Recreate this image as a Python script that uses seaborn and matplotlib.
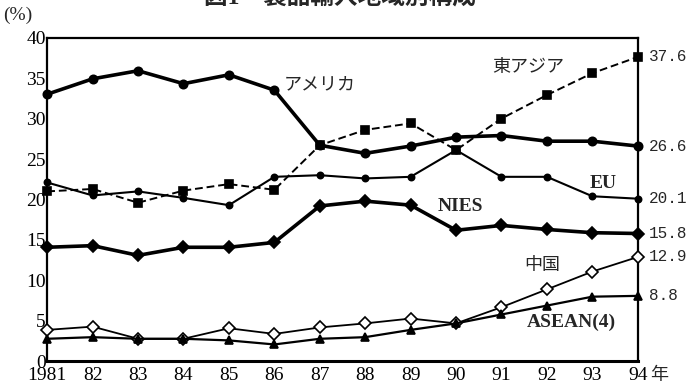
import numpy as np
import pandas as pd
import matplotlib
matplotlib.use("Agg")
import matplotlib.pyplot as plt
import seaborn as sns

# データ (図1 製品輸入地域別構成, %)
years = list(range(1981, 1995))
america = [33.0, 34.9, 35.9, 34.3, 35.4, 33.5, 26.7, 25.7, 26.6, 27.7, 27.9, 27.2, 27.2, 26.6]
east_asia = [21.0, 21.3, 19.6, 21.1, 21.9, 21.2, 26.7, 28.6, 29.4, 26.1, 30.0, 32.9, 35.6, 37.6]
eu = [22.1, 20.5, 21.0, 20.2, 19.3, 22.8, 23.0, 22.6, 22.8, 26.1, 22.8, 22.8, 20.4, 20.1]
nies = [14.1, 14.3, 13.1, 14.1, 14.1, 14.7, 19.2, 19.8, 19.3, 16.2, 16.8, 16.3, 15.9, 15.8]
china = [3.9, 4.3, 2.8, 2.8, 4.1, 3.4, 4.2, 4.7, 5.3, 4.7, 6.7, 8.9, 11.1, 12.9]
asean = [2.8, 3.0, 2.8, 2.8, 2.6, 2.1, 2.8, 3.0, 3.9, 4.7, 5.8, 6.9, 8.0, 8.1]

x_labels = ["1981", "82", "83", "84", "85", "86", "87", "88", "89", "90", "91", "92", "93", "94"]
end_labels = ["26.6", "37.6", "20.1", "15.8", "12.9", "8.8"]

df = pd.DataFrame({"year": years, "アメリカ": america, "東アジア": east_asia, "EU": eu,
                   "NIES": nies, "中国": china, "ASEAN(4)": asean})

sns.set_style("white")
plt.rcParams['font.family'] = ['Liberation Serif', 'Noto Sans CJK JP', 'DejaVu Sans']

fig = plt.figure(figsize=(6.94, 3.87), dpi=100)
ax = fig.add_axes([0.068, 0.066, 0.851, 0.837])

# 系列ごとのスタイル
styles = {
    "アメリカ": dict(lw=2.6, ls="-", marker="o", ms=6, mfc="black"),
    "東アジア": dict(lw=1.4, ls=(0, (4, 2)), marker="s", ms=6, mfc="black"),
    "EU": dict(lw=1.5, ls="-", marker="o", ms=4.5, mfc="black"),
    "NIES": dict(lw=2.6, ls="-", marker="D", ms=6, mfc="black"),
    "中国": dict(lw=1.3, ls="-", marker="D", ms=6, mfc="white"),
    "ASEAN(4)": dict(lw=1.6, ls="-", marker="^", ms=5.5, mfc="black"),
}
for name, st in styles.items():
    sns.lineplot(data=df, x="year", y=name, ax=ax, color="black", linewidth=st["lw"],
                 linestyle=st["ls"], marker=st["marker"], markersize=st["ms"],
                 markerfacecolor=st["mfc"], markeredgecolor="black", markeredgewidth=1.2,
                 clip_on=False, zorder=3)

ax.set_xlim(1981, 1994)
ax.set_ylim(0, 40)
ax.set_xlabel("")
ax.set_ylabel("")
ax.set_xticks(years)
ax.set_xticklabels(x_labels, fontsize=14)
ax.set_yticks(range(0, 41, 5))
ax.set_yticklabels([str(v) for v in range(0, 41, 5)], fontsize=14)
ax.tick_params(axis="x", direction="in", length=7, width=1.5, pad=4, colors="black")
ax.tick_params(axis="y", direction="in", length=5, width=1.2, pad=1, colors="black")
for s in ["left", "right", "top"]:
    ax.spines[s].set_linewidth(1.6)
    ax.spines[s].set_color("black")
ax.spines["bottom"].set_linewidth(2.2)
ax.spines["bottom"].set_color("black")

# 系列名ラベル
ax.text(1986.2, 34.1, "アメリカ", fontsize=13, va="center", ha="left")
ax.text(1990.8, 36.3, "東アジア", fontsize=13, va="center", ha="left")
ax.text(1992.95, 22.0, "EU", fontsize=14, va="center", ha="left", weight="bold")
ax.text(1989.6, 19.1, "NIES", fontsize=14, va="center", ha="left", weight="bold")
ax.text(1991.5, 11.9, "中国", fontsize=13, va="center", ha="left")
ax.text(1991.55, 4.8, "ASEAN(4)", fontsize=14, va="center", ha="left", weight="bold")

# 右端の数値
last_vals = [america[-1], east_asia[-1], eu[-1], nies[-1], china[-1], asean[-1]]
for v, lab in zip(last_vals, end_labels):
    ax.annotate(lab, xy=(1994, v), xytext=(8, 0), textcoords="offset points",
                fontsize=11.5, va="center", ha="left", family="Liberation Mono",
                annotation_clip=False)

ax.annotate("年", xy=(1994, 0), xytext=(9, -4), textcoords="offset points",
            fontsize=13, va="top", ha="left", annotation_clip=False)
fig.text(0.005, 0.96, "(%)", fontsize=14, va="center", ha="left")
fig.text(0.49, 1.005, "図1　製品輸入地域別構成", fontsize=17, weight="bold",
         va="center", ha="center")

fig.savefig("out.png", dpi=100)
